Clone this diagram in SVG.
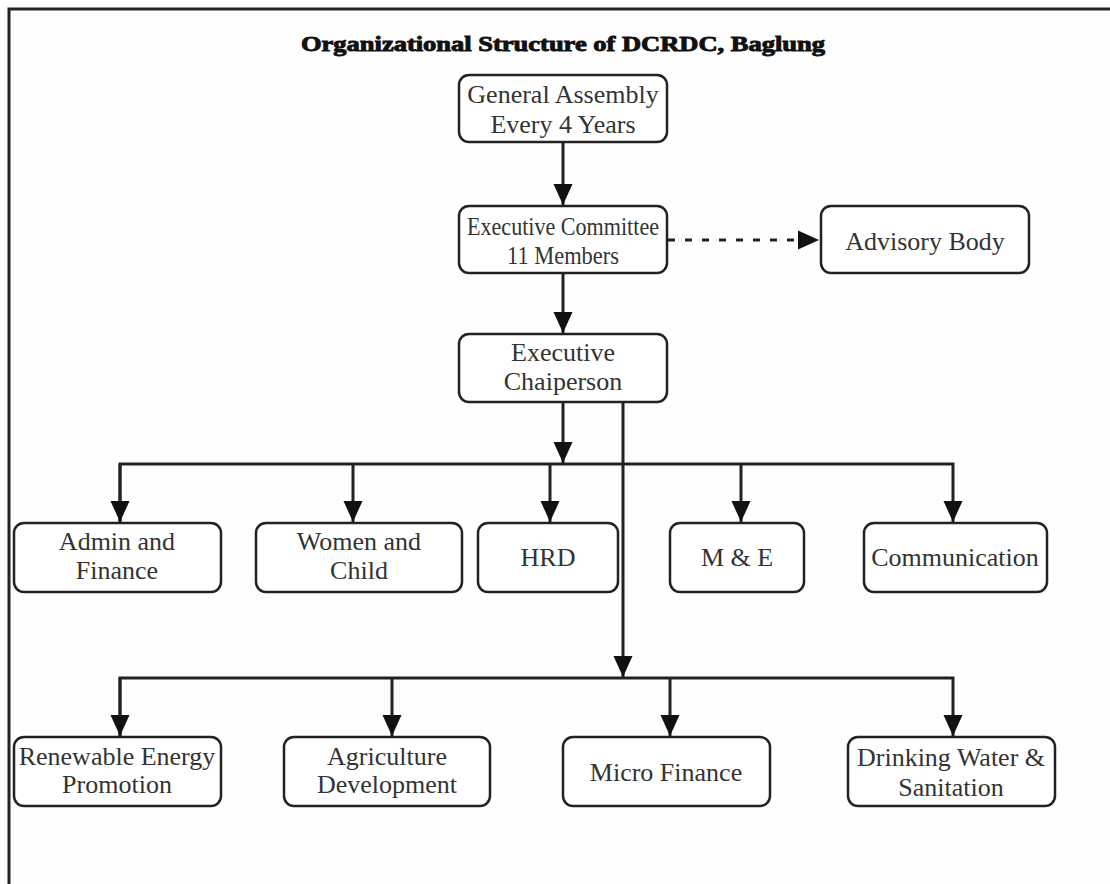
<svg xmlns="http://www.w3.org/2000/svg" width="1110" height="884" viewBox="0 0 1110 884">
<style>
.box{fill:#fff;stroke:#222;stroke-width:2.5}
.t{font-family:"Liberation Serif","Times New Roman",serif;font-size:26px;fill:#333;text-anchor:middle}
.c{fill:none;stroke:#222;stroke-width:3}
.title{font-family:"Liberation Serif","Times New Roman",serif;font-weight:bold;font-size:21px;fill:#111;stroke:#111;stroke-width:0.9;text-anchor:middle}
</style>
<defs>
<marker id="ah" markerUnits="userSpaceOnUse" markerWidth="22" markerHeight="22" viewBox="0 0 22 22" refX="21" refY="11" orient="auto">
<path d="M0,1.5 L21,11 L0,20.5 Z" fill="#111"/>
</marker>
</defs>
<rect width="1110" height="884" fill="#fefefe"/>
<path d="M9,884 V9 H1110" fill="none" stroke="#222" stroke-width="3"/>
<text class="title" x="563" y="51" textLength="524" lengthAdjust="spacingAndGlyphs">Organizational Structure of DCRDC, Baglung</text>
<g id="connectors">
<path class="c" d="M563,142 V205" marker-end="url(#ah)"/>
<path class="c" d="M563,273 V333" marker-end="url(#ah)"/>
<path class="c" d="M668,240 H819" stroke-dasharray="7,10" marker-end="url(#ah)"/>
<path class="c" d="M563,402 V463" marker-end="url(#ah)"/>
<path class="c" d="M120,522 V464 H953 V522" marker-end="url(#ah)"/>
<path class="c" d="M120,464 V522" marker-end="url(#ah)"/>
<path class="c" d="M353,464 V522" marker-end="url(#ah)"/>
<path class="c" d="M550,464 V522" marker-end="url(#ah)"/>
<path class="c" d="M741,464 V522" marker-end="url(#ah)"/>
<path class="c" d="M623,402 V677" marker-end="url(#ah)"/>
<path class="c" d="M120,736 V678 H953 V736" marker-end="url(#ah)"/>
<path class="c" d="M120,678 V736" marker-end="url(#ah)"/>
<path class="c" d="M392,678 V736" marker-end="url(#ah)"/>
<path class="c" d="M670,678 V736" marker-end="url(#ah)"/>
</g>
<g id="general-assembly">
<rect class="box" x="459" y="75" width="208" height="67" rx="10"/>
<text class="t" x="563" y="103">General Assembly</text>
<text class="t" x="563" y="133">Every 4 Years</text>
</g>
<g id="executive-committee">
<rect class="box" x="459" y="206" width="208" height="67" rx="10"/>
<text class="t" x="563" y="235" textLength="192" lengthAdjust="spacingAndGlyphs">Executive Committee</text>
<text class="t" x="563" y="264" textLength="112" lengthAdjust="spacingAndGlyphs">11 Members</text>
</g>
<g id="advisory-body">
<rect class="box" x="821" y="206" width="208" height="67" rx="10"/>
<text class="t" x="925" y="250">Advisory Body</text>
</g>
<g id="executive-chairperson">
<rect class="box" x="459" y="334" width="208" height="68" rx="10"/>
<text class="t" x="563" y="361">Executive</text>
<text class="t" x="563" y="390">Chaiperson</text>
</g>
<g id="admin-finance">
<rect class="box" x="14" y="523" width="207" height="69" rx="10"/>
<text class="t" x="117" y="550">Admin and</text>
<text class="t" x="117" y="579">Finance</text>
</g>
<g id="women-child">
<rect class="box" x="256" y="523" width="206" height="69" rx="10"/>
<text class="t" x="359" y="550">Women and</text>
<text class="t" x="359" y="579">Child</text>
</g>
<g id="hrd">
<rect class="box" x="478" y="523" width="140" height="69" rx="10"/>
<text class="t" x="548" y="566">HRD</text>
</g>
<g id="m-and-e">
<rect class="box" x="670" y="523" width="134" height="69" rx="10"/>
<text class="t" x="737" y="566">M &amp; E</text>
</g>
<g id="communication">
<rect class="box" x="864" y="523" width="183" height="69" rx="10"/>
<text class="t" x="955" y="566">Communication</text>
</g>
<g id="renewable-energy">
<rect class="box" x="14" y="737" width="207" height="69" rx="10"/>
<text class="t" x="117" y="765">Renewable Energy</text>
<text class="t" x="117" y="793">Promotion</text>
</g>
<g id="agriculture">
<rect class="box" x="284" y="737" width="206" height="69" rx="10"/>
<text class="t" x="387" y="765">Agriculture</text>
<text class="t" x="387" y="793">Development</text>
</g>
<g id="micro-finance">
<rect class="box" x="563" y="737" width="207" height="69" rx="10"/>
<text class="t" x="666" y="781">Micro Finance</text>
</g>
<g id="drinking-water">
<rect class="box" x="848" y="737" width="207" height="69" rx="10"/>
<text class="t" x="951" y="766">Drinking Water &amp;</text>
<text class="t" x="951" y="796">Sanitation</text>
</g>
</svg>
